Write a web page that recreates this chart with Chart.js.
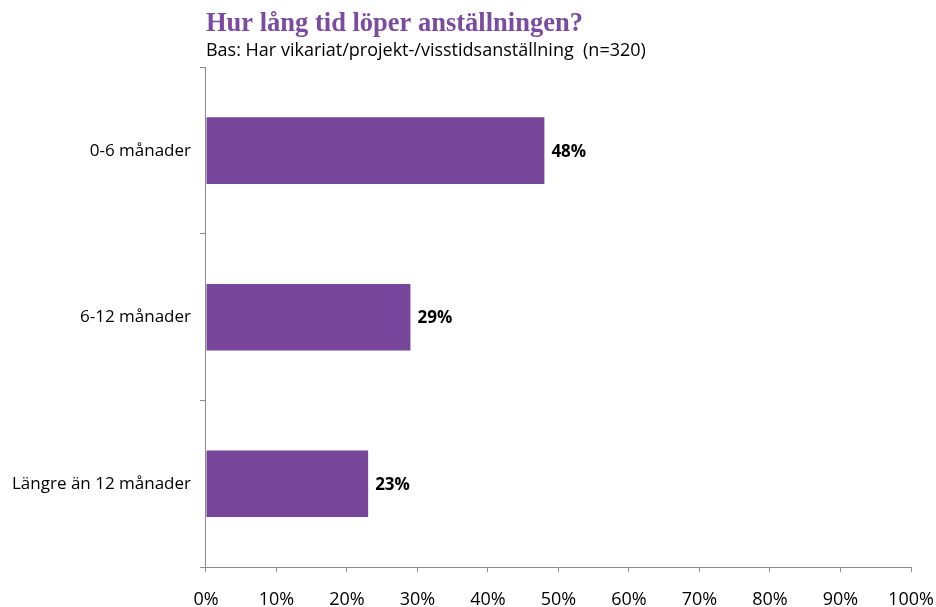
<!DOCTYPE html>
<html>
<head>
<meta charset="utf-8">
<script src="https://cdn.jsdelivr.net/npm/chart.js@4"></script>
<style>
  html, body { margin: 0; padding: 0; background: #fff; }
  #wrap { width: 936px; height: 607px; }
</style>
</head>
<body>
<div id="wrap"><canvas id="chart"></canvas></div>
<script>
// data
const kategorier = ["0-6 månader", "6-12 månader", "Längre än 12 månader"];
const andelar = [48, 29, 23];
const titel = "Hur lång tid löper anställningen?";
const underrubrik = "Bas: Har vikariat/projekt-/visstidsanställning  (n=320)";

const lila = "#77459A";
const axelGra = "#8c8c8c";

// procentetiketter till höger om staplarna
const etiketter = {
  id: "etiketter",
  afterDatasetsDraw(chart) {
    const ctx = chart.ctx;
    const meta = chart.getDatasetMeta(0);
    ctx.save();
    ctx.font = "bold 17px 'Open Sans'";
    ctx.fillStyle = "#000";
    ctx.textBaseline = "middle";
    meta.data.forEach((bar, i) => {
      ctx.fillText(andelar[i] + "%", bar.x + 7, bar.y + 1);
    });
    ctx.restore();
  }
};

new Chart(document.getElementById("chart"), {
  type: "bar",
  data: {
    labels: kategorier,
    datasets: [{
      data: andelar,
      backgroundColor: lila,
      categoryPercentage: 0.4,
      barPercentage: 1
    }]
  },
  options: {
    indexAxis: "y",
    responsive: true,
    maintainAspectRatio: false,
    animation: false,
    layout: { padding: { left: 3, right: 25, top: 4, bottom: 0 } },
    plugins: {
      legend: { display: false },
      tooltip: { enabled: false },
      title: {
        display: true,
        text: titel,
        align: "start",
        fullSize: false,
        color: "#7B4BA0",
        font: { family: "'Liberation Serif'", size: 26.5, weight: "bold" },
        padding: { top: 4, bottom: 0 }
      },
      subtitle: {
        display: true,
        text: underrubrik,
        align: "start",
        fullSize: false,
        color: "#000",
        font: { family: "'Open Sans'", size: 18 },
        padding: { top: 0, bottom: 6 }
      }
    },
    scales: {
      x: {
        min: 0,
        max: 100,
        afterFit(scale) {
          scale.height = 40;
          scale.paddingRight = 0;
          scale.paddingLeft = 0;
        },
        ticks: {
          stepSize: 10,
          color: "#000",
          font: { family: "'Open Sans'", size: 18 },
          padding: 17,
          callback: (v) => v + "%"
        },
        grid: { drawOnChartArea: false, tickLength: 5, color: axelGra },
        border: { color: axelGra }
      },
      y: {
        offset: true,
        ticks: {
          color: "#000",
          font: { family: "'Open Sans'", size: 17 },
          padding: 9
        },
        grid: { offset: true, drawOnChartArea: false, tickLength: 6, color: axelGra },
        border: { color: axelGra }
      }
    }
  },
  plugins: [etiketter]
});
</script>
</body>
</html>
